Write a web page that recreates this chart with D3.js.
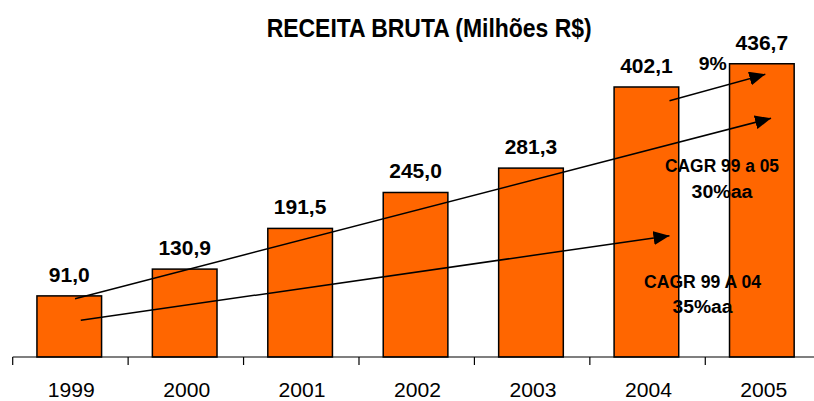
<!DOCTYPE html>
<html>
<head>
<meta charset="utf-8">
<script src="https://cdn.jsdelivr.net/npm/d3@7"></script>
<style>
  html, body { margin: 0; padding: 0; background: #fff; }
  svg { display: block; font-family: "Liberation Sans", Arial, sans-serif; }
</style>
</head>
<body>
<svg id="chart" width="814" height="401"></svg>
<script>
// ---- data ----
const years = ["1999", "2000", "2001", "2002", "2003", "2004", "2005"];
const revenue = [91.0, 130.9, 191.5, 245.0, 281.3, 402.1, 436.7];
const valueLabels = ["91,0", "130,9", "191,5", "245,0", "281,3", "402,1", "436,7"];
const title = "RECEITA BRUTA (Milhões R$)";

// annotation arrows in data space: [category index (fractional), value]
const arrows = [
  { from: [5.19, 381.7], to: [6.02, 421.0] },
  { from: [0.04, 86.8], to: [6.07, 355.5] },
  { from: [0.09, 54.7], to: [5.19, 180.6] }
];
// annotation texts in data space
const notes = [
  { text: "9%", at: [5.686, 427.4], anchor: "end", len: 28 },
  { text: "CAGR 99 a 05", at: [5.645, 275.0], anchor: "middle", len: 114 },
  { text: "30%aa", at: [5.645, 237.2], anchor: "middle", len: 61 },
  { text: "CAGR 99 A 04", at: [5.476, 103.2], anchor: "middle", len: 117 },
  { text: "35%aa", at: [5.476, 66.0], anchor: "middle", len: 60 }
];

// ---- layout ----
const svg = d3.select("#chart");
const baseY = 357;
const step = 115.43;
const x0 = 12.7;
const x = d3.scaleBand()
  .domain(years)
  .range([x0, x0 + step * (7 - 0.44 + 0.42)])
  .paddingInner(0.44)
  .paddingOuter(0.21);
const y = d3.scaleLinear().domain([0, 450]).range([baseY, baseY - 450 * 0.6715]);
// fractional category position -> pixel (index i center)
const xi = d3.scaleLinear().domain([-0.5, 6.5]).range([x0, x0 + 7 * step]);

// title
svg.append("text")
  .attr("x", 266.7).attr("y", 36.7)
  .attr("font-size", 26).attr("font-weight", "bold")
  .attr("textLength", 325).attr("lengthAdjust", "spacingAndGlyphs")
  .attr("fill", "#000")
  .text(title);

// bars
svg.append("g").selectAll("rect")
  .data(years)
  .join("rect")
  .attr("x", d => x(d))
  .attr("width", x.bandwidth())
  .attr("y", (d, i) => y(revenue[i]))
  .attr("height", (d, i) => baseY - y(revenue[i]))
  .attr("fill", "#FF6600")
  .attr("stroke", "#000")
  .attr("stroke-width", 1.5);

// value labels
svg.append("g").selectAll("text")
  .data(years)
  .join("text")
  .attr("x", d => x(d) + x.bandwidth() / 2)
  .attr("y", (d, i) => y(revenue[i]) - 14)
  .attr("text-anchor", "middle")
  .attr("font-size", 21).attr("font-weight", "bold")
  .attr("fill", "#000")
  .text((d, i) => valueLabels[i]);

// x axis
const axis = svg.append("g");
axis.append("line")
  .attr("x1", x0).attr("x2", 814)
  .attr("y1", baseY).attr("y2", baseY)
  .attr("stroke", "#000").attr("stroke-width", 1.2);
axis.selectAll("line.tick")
  .data(years)
  .join("line")
  .attr("class", "tick")
  .attr("x1", d => x(d) - x.paddingOuter() * x.step())
  .attr("x2", d => x(d) - x.paddingOuter() * x.step())
  .attr("y1", baseY).attr("y2", baseY + 8)
  .attr("stroke", "#000").attr("stroke-width", 1.2);
axis.selectAll("text")
  .data(years)
  .join("text")
  .attr("x", d => x(d) + x.bandwidth() / 2 + 2)
  .attr("y", 396.5)
  .attr("text-anchor", "middle")
  .attr("font-size", 20.5)
  .attr("textLength", 47).attr("lengthAdjust", "spacingAndGlyphs")
  .attr("fill", "#000")
  .text(d => d);

// arrow marker
svg.append("defs").append("marker")
  .attr("id", "ah")
  .attr("markerUnits", "userSpaceOnUse")
  .attr("viewBox", "0 0 16 14")
  .attr("markerWidth", 16).attr("markerHeight", 14)
  .attr("refX", 16).attr("refY", 7)
  .attr("orient", "auto")
  .append("path")
  .attr("d", "M0,0 L16,7 L0,14 Z")
  .attr("fill", "#000");

svg.append("g").selectAll("line")
  .data(arrows)
  .join("line")
  .attr("x1", d => xi(d.from[0])).attr("y1", d => y(d.from[1]))
  .attr("x2", d => xi(d.to[0])).attr("y2", d => y(d.to[1]))
  .attr("stroke", "#000").attr("stroke-width", 1.5)
  .attr("marker-end", "url(#ah)");

// annotation texts
svg.append("g").selectAll("text")
  .data(notes)
  .join("text")
  .attr("x", d => xi(d.at[0]))
  .attr("y", d => y(d.at[1]))
  .attr("text-anchor", d => d.anchor)
  .attr("font-size", 18).attr("font-weight", "bold")
  .attr("textLength", d => d.len).attr("lengthAdjust", "spacingAndGlyphs")
  .attr("fill", "#000")
  .text(d => d.text);
</script>
</body>
</html>
